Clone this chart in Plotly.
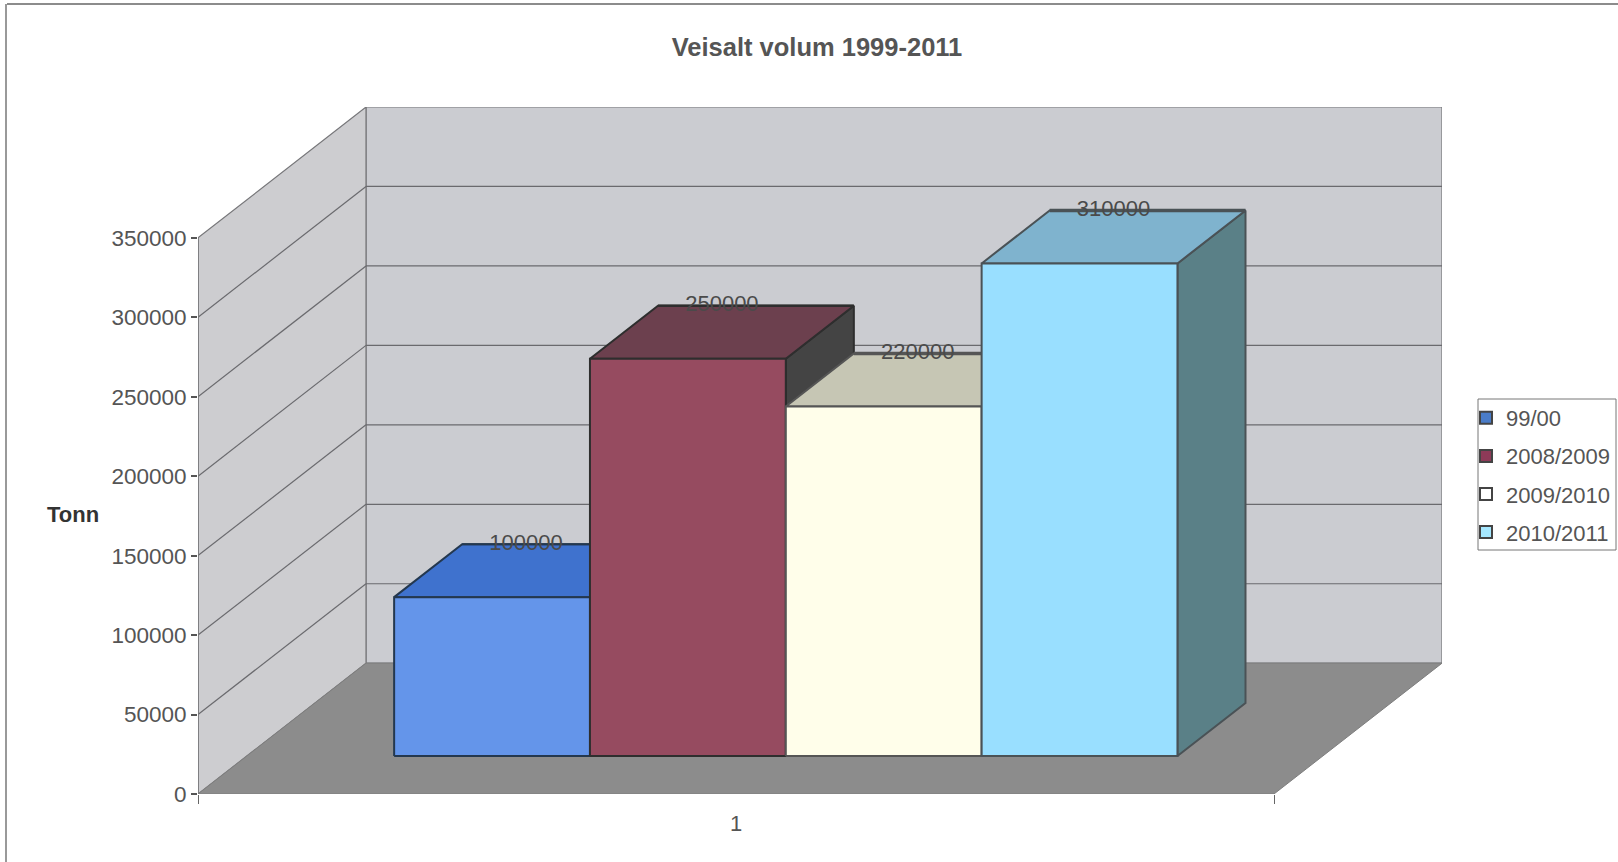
import plotly.graph_objects as go

# ---- data ----
seasons = ["99/00", "2008/2009", "2009/2010", "2010/2011"]
volumes = [100000, 250000, 220000, 310000]
y_ticks = [0, 50000, 100000, 150000, 200000, 250000, 300000, 350000]
title_text = "Veisalt volum 1999-2011"
y_title = "Tonn"
category_labels = ["1"]

# ---- styles ----
front_colors = ["#6495EA", "#964B60", "#FFFEEA", "#99DFFF"]
top_colors = ["#3F72CE", "#6C404E", "#C6C6B4", "#7FB3CE"]
side_colors = ["#2F5596", "#444444", "#A0A090", "#5A8087"]
swatch_colors = ["#4A7CC8", "#8E3A58", "#FFFFFF", "#A6E8FF"]
edge_colors = ["#24384F", "#2E2E2E", "#555555", "#4A5256"]
back_edge_widths = [2, 2.5, 3.5, 3.5]
TEXT = "#555555"
FONT = "Liberation Sans, Arial, sans-serif"

W, H = 1618, 862
FL, FR, BR = 198, 1274, 1442        # front-left, front-right, back-right pixels
Y0, YTOP = 794, 107                 # floor front, top of back wall
PX_PER_UNIT_Y = (794 - 237) / 350000

# oblique projection: depth z in [0, 1] shears x and y
DX = (BR - FR) / (FR - FL)
DY = 131 / PX_PER_UNIT_Y
YMAX = y_ticks[-1]


def proj(x, y, z):
    return x + z * DX, y + z * DY


def poly(points):
    pts = [proj(*p) for p in points]
    pts.append(pts[0])
    return [p[0] for p in pts], [p[1] for p in pts]


fig = go.Figure()


def face(points, fill, line_color, width=1.5):
    xs, ys = poly(points)
    fig.add_trace(go.Scatter(
        x=xs, y=ys, mode="lines", fill="toself", fillcolor=fill,
        line=dict(color=line_color, width=width), showlegend=False,
        hoverinfo="skip", cliponaxis=False))


def seg(a, b, color="#6A6A6E", width=1.2):
    xs, ys = poly([a, b])
    fig.add_trace(go.Scatter(
        x=xs[:2], y=ys[:2], mode="lines", line=dict(color=color, width=width),
        showlegend=False, hoverinfo="skip", cliponaxis=False))


# walls and floor
face([(0, 0, 1), (1, 0, 1), (1, YMAX, 1), (0, YMAX, 1)], "#CBCCD1", "#77777A", 1.2)
face([(0, 0, 0), (0, 0, 1), (0, YMAX, 1), (0, YMAX, 0)], "#CDCDD0", "#77777A", 1.2)
for v in y_ticks[1:-1]:
    seg((0, v, 0), (0, v, 1))
    seg((0, v, 1), (1, v, 1))
face([(0, 0, 0), (1, 0, 0), (1, 0, 1), (0, 0, 1)], "#8C8C8C", "#7E7E7E", 1.0)

# bars
BAR_START, BAR_W = 0.137, 0.182
Z0, Z1 = 0.29, 0.695
for i, v in enumerate(volumes):
    x0 = BAR_START + i * BAR_W
    x1 = x0 + BAR_W
    e = edge_colors[i]
    face([(x1, 0, Z0), (x1, 0, Z1), (x1, v, Z1), (x1, v, Z0)], side_colors[i], e, 2)
    face([(x0, v, Z0), (x1, v, Z0), (x1, v, Z1), (x0, v, Z1)], top_colors[i], e, 2)
    seg((x0, v, Z1), (x1, v, Z1), e, back_edge_widths[i])
    face([(x0, 0, Z0), (x1, 0, Z0), (x1, v, Z0), (x0, v, Z0)], front_colors[i], e, 2)

# front edge of the value axis
seg((0, 0, 0), (0, YMAX, 0), "#77777A", 1.5)

# data labels
label_x = [BAR_START + (i + 0.5) * BAR_W + (Z0 + Z1) / 2 * DX for i in range(4)]
label_y = [v + Z1 * DY for v in volumes]
fig.add_trace(go.Scatter(
    x=label_x, y=label_y, mode="text", text=[str(v) for v in volumes],
    textposition="middle center", textfont=dict(family=FONT, size=22, color="#4A4A4A"),
    showlegend=False, hoverinfo="skip", cliponaxis=False))

# legend entries
for i, name in enumerate(seasons):
    fig.add_trace(go.Scatter(
        x=[None], y=[None], mode="markers", name=name, legendgroup=name,
        marker=dict(symbol="square", size=12, color=swatch_colors[i],
                    line=dict(color="#444444", width=2))))

fig.update_layout(
    width=W, height=H, margin=dict(l=0, r=0, t=0, b=0), autosize=False,
    paper_bgcolor="white", plot_bgcolor="rgba(0,0,0,0)",
    font=dict(family=FONT, size=22, color=TEXT),
    title=dict(text="<b>" + title_text + "</b>", x=817 / W, xanchor="center",
               y=1 - 47.5 / H, yanchor="middle", font=dict(family=FONT, size=25.5, color=TEXT)),
    xaxis=dict(domain=[FL / W, BR / W], range=[0, 1 + DX], showgrid=False, zeroline=False,
               automargin=False, showline=False, tickvals=[0.5], ticktext=category_labels,
               ticks="outside", ticklen=10, tickcolor="rgba(0,0,0,0)",
               tickfont=dict(size=22, color=TEXT),
               minor=dict(tickvals=[0, 1], ticks="outside", ticklen=9, tickcolor="#666666")),
    yaxis=dict(domain=[1 - Y0 / H, 1 - YTOP / H], range=[0, YMAX + DY], showgrid=False,
               automargin=False, zeroline=False, showline=False, tickvals=y_ticks,
               ticktext=[str(v) for v in y_ticks], ticks="outside", ticklen=6,
               tickcolor="#555555", tickwidth=1.5, tickfont=dict(size=22.5, color=TEXT)),
    legend=dict(x=1466 / W, xanchor="left", y=1 - 397 / H, yanchor="top",
                bgcolor="rgba(0,0,0,0)", borderwidth=0,
                font=dict(family=FONT, size=22, color=TEXT), tracegroupgap=6.5,
                traceorder="grouped", itemwidth=30),
    annotations=[dict(text="<b>" + y_title + "</b>", xref="paper", yref="paper",
                      x=73 / W, y=1 - 514 / H, xanchor="center", yanchor="middle",
                      showarrow=False, font=dict(family=FONT, size=22, color="#333333"))],
    shapes=[
        dict(type="line", xref="paper", yref="paper", x0=7 / W, x1=1, y0=1 - 4 / H, y1=1 - 4 / H,
             line=dict(color="#666666", width=1.5)),
        dict(type="line", xref="paper", yref="paper", x0=6 / W, x1=6 / W, y0=0, y1=1 - 4 / H,
             line=dict(color="#777777", width=1.5)),
        dict(type="rect", xref="paper", yref="paper", x0=1478 / W, x1=1616 / W,
             y0=1 - 550 / H, y1=1 - 399 / H, line=dict(color="#777777", width=1),
             fillcolor="white", layer="below"),
    ],
)

post = (
    "document.documentElement.style.margin='0';"
    "document.body.style.margin='0';document.body.style.overflow='hidden';"
)
fig.write_html("out.html", post_script=post, config={"displayModeBar": False, "responsive": False})
